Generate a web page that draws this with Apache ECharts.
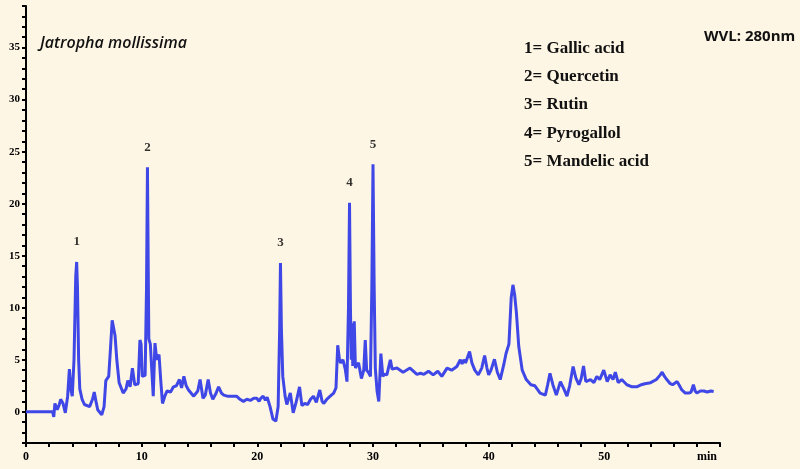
<!DOCTYPE html>
<html>
<head>
<meta charset="utf-8">
<script src="https://cdn.jsdelivr.net/npm/echarts@6/dist/echarts.min.js"></script>
<style>
html,body{margin:0;padding:0;background:#FEF6E4;}
#chart{width:800px;height:469px;}
</style>
</head>
<body>
<div id="chart"></div>
<script>
// Retention time (min)
const times = [0,2.3,2.4,2.5,2.7,2.85,3.0,3.2,3.4,3.6,3.75,3.9,4.0,4.15,4.3,4.38,4.45,4.55,4.65,4.85,5.05,5.5,5.75,5.9,6.05,6.2,6.55,6.75,6.9,7.15,7.3,7.45,7.55,7.7,7.85,8.05,8.4,8.65,8.8,9.0,9.2,9.4,9.7,9.85,9.95,10.05,10.3,10.42,10.5,10.58,10.62,10.75,11.0,11.15,11.3,11.5,11.65,11.8,12.0,12.2,12.5,12.75,13.0,13.27,13.45,13.65,13.85,14.05,14.5,14.85,15.05,15.3,15.5,15.75,15.95,16.15,16.4,16.65,16.9,17.1,17.4,17.7,18.2,18.5,18.8,19.1,19.4,19.7,19.95,20.15,20.3,20.5,20.7,20.85,21.1,21.35,21.6,21.8,21.93,22.0,22.08,22.2,22.4,22.55,22.85,23.1,23.35,23.5,23.65,23.85,24.1,24.35,24.6,24.85,25.1,25.4,25.6,25.75,26.0,26.3,26.6,26.8,26.95,27.1,27.2,27.4,27.6,27.75,27.88,27.97,28.05,28.12,28.18,28.25,28.38,28.48,28.6,28.75,29.0,29.2,29.33,29.45,29.6,29.78,29.9,30.0,30.1,30.2,30.35,30.5,30.68,30.85,31.0,31.2,31.5,31.65,32.07,32.6,33.2,33.8,34.1,34.4,34.8,35.2,35.6,35.95,36.4,36.8,37.25,37.55,37.7,37.85,38.0,38.15,38.35,38.55,38.8,39.1,39.4,39.65,39.85,40.0,40.2,40.5,40.75,41.0,41.3,41.5,41.75,41.95,42.1,42.25,42.4,42.6,42.9,43.25,43.65,44.0,44.45,44.9,45.1,45.3,45.55,45.85,46.2,46.5,46.77,47.0,47.3,47.55,47.8,48.0,48.2,48.4,48.5,48.8,49.1,49.35,49.6,49.95,50.25,50.5,50.75,50.95,51.2,51.5,51.95,52.4,52.8,53.2,53.5,54.0,54.5,54.8,55.0,55.2,55.4,55.7,55.9,56.3,56.5,56.7,57.0,57.3,57.5,57.7,57.85,58.0,58.3,58.6,58.9,59.2,59.45];
// Detector signal (mAU)
const signal = [0,0,-0.5,0.8,0.2,0.6,1.2,0.8,-0.1,1.5,4.1,2.0,1.5,5,13,14.4,12,5,2.2,1.2,0.7,0.5,1.2,1.9,1.0,0.2,-0.3,0.5,3.0,3.4,6,8.8,8.9,7.3,5,2.8,1.8,2.2,3.0,2.4,4.2,2.6,2.7,6.9,6.5,3.4,3.5,12,23.5,12,7,6.5,1.5,6.6,5.0,5.5,3,0.8,1.5,2.0,1.9,2.4,2.5,3.1,2.3,3.4,2.5,2.1,1.5,2.0,3.1,1.3,1.6,3.1,1.8,1.2,1.7,2.4,1.8,1.6,1.5,1.5,1.5,1.2,1.0,1.2,1.1,1.3,1.3,1.0,1.3,1.5,1.1,1.4,0.5,-0.7,-0.9,0.5,8,14.3,8,3.4,1.5,0.7,1.8,-0.1,0.9,1.0,2.4,0.6,0.8,0.7,1.2,1.5,0.9,2.1,1.0,0.8,1.2,1.5,1.8,2.3,6.4,5.0,4.7,5.0,4.1,2.9,10,20.1,10,5,8.5,4.4,8.7,4.2,4.5,4.7,3.2,4,6.9,4.0,3.8,3.4,12,23.8,12,4.2,2,1.0,5.6,3.4,3.6,3.55,5.0,4.1,4.2,3.8,4.2,3.6,3.7,3.6,3.9,3.55,3.9,3.4,4.2,4.0,4.35,5.0,4.6,5.0,4.7,4.6,5.8,4.7,4.0,3.55,4.2,5.4,4.2,3.55,4.0,5.05,3.8,3.1,4.5,5.6,6.5,11,12.2,11.2,9.5,6.3,4.0,3.1,2.6,2.5,1.8,1.6,2.6,3.7,2.6,1.6,2.9,2.2,1.5,2.5,4.35,3.2,2.6,3.2,4.4,2.9,2.9,3.1,2.8,3.4,3.1,4.0,2.9,3.55,3.1,3.8,2.8,3.1,2.6,2.4,2.4,2.6,2.7,2.8,3.1,3.5,3.8,3.4,3.1,2.7,2.6,2.9,2.5,2.1,1.8,1.8,1.9,2.6,2.0,1.8,2.0,2.0,1.9,2.0,1.95];
// Identified peaks
const peakLabels = ['1','2','3','4','5'];
const peakTimes = [4.38,10.5,22.0,27.97,30.0];
const peakHeights = [14.4,23.5,14.3,20.1,23.8];
const compounds = ['1= Gallic acid','2= Quercetin','3= Rutin','4= Pyrogallol','5= Mandelic acid'];
const sampleName = 'Jatropha mollissima';
const wavelength = 'WVL: 280nm';

const chart = echarts.init(document.getElementById('chart'), null, {renderer:'canvas'});
const axisFont = {color:'#000', fontFamily:'Liberation Serif', fontWeight:'bold', fontSize:12};
chart.setOption({
  backgroundColor:'#FEF6E4',
  animation:false,
  title:[
    {text:sampleName, left:35, top:30, textStyle:{fontFamily:'Open Sans', fontStyle:'italic', fontWeight:600, fontSize:16, color:'#111'}},
    {text:wavelength, left:699, top:24, textStyle:{fontFamily:'Open Sans', fontWeight:'bold', fontSize:15, color:'#111'}},
    {text:compounds.join('\n'), left:519, top:29, textStyle:{fontFamily:'Liberation Serif', fontWeight:'bold', fontSize:17, lineHeight:28.4, color:'#111'}}
  ],
  grid:{left:26, right:80, top:6, bottom:26, containLabel:false},
  xAxis:{
    type:'value', min:0, max:60, interval:2,
    axisLine:{show:true, onZero:false, lineStyle:{color:'#000', width:2}},
    axisTick:{show:true, length:4, lineStyle:{color:'#000', width:2}},
    splitLine:{show:false},
    axisLabel:Object.assign({}, axisFont, {margin:8, showMaxLabel:true,
      formatter:v=> v===60 ? '{m|min}' : (v%10===0 ? String(v) : ''),
      rich:{m:{fontFamily:'Liberation Serif', fontWeight:'bold', fontSize:12, color:'#000', padding:[0,26,0,0]}}})
  },
  yAxis:{
    type:'value', min:-3, max:39, interval:1,
    axisLine:{show:true, onZero:false, lineStyle:{color:'#000', width:2}},
    axisTick:{show:true, length:4, lineStyle:{color:'#000', width:2}},
    splitLine:{show:false},
    axisLabel:Object.assign({}, axisFont, {fontSize:11, margin:6, formatter:v=> v%5===0 ? String(v) : ''})
  },
  series:[
    {type:'line', data:times.map((t,i)=>[t,signal[i]]), showSymbol:false, symbol:'none',
     lineStyle:{color:'#3F47E6', width:3}, z:3},
    {type:'scatter', data:peakTimes.map((t,i)=>[t,peakHeights[i]]), symbolSize:1,
     itemStyle:{color:'rgba(0,0,0,0)'},
     label:{show:true, position:'top', distance:13, formatter:p=>peakLabels[p.dataIndex],
       fontFamily:'Liberation Serif', fontWeight:'bold', fontSize:13, color:'#000'}, z:4}
  ]
});
</script>
</body>
</html>
